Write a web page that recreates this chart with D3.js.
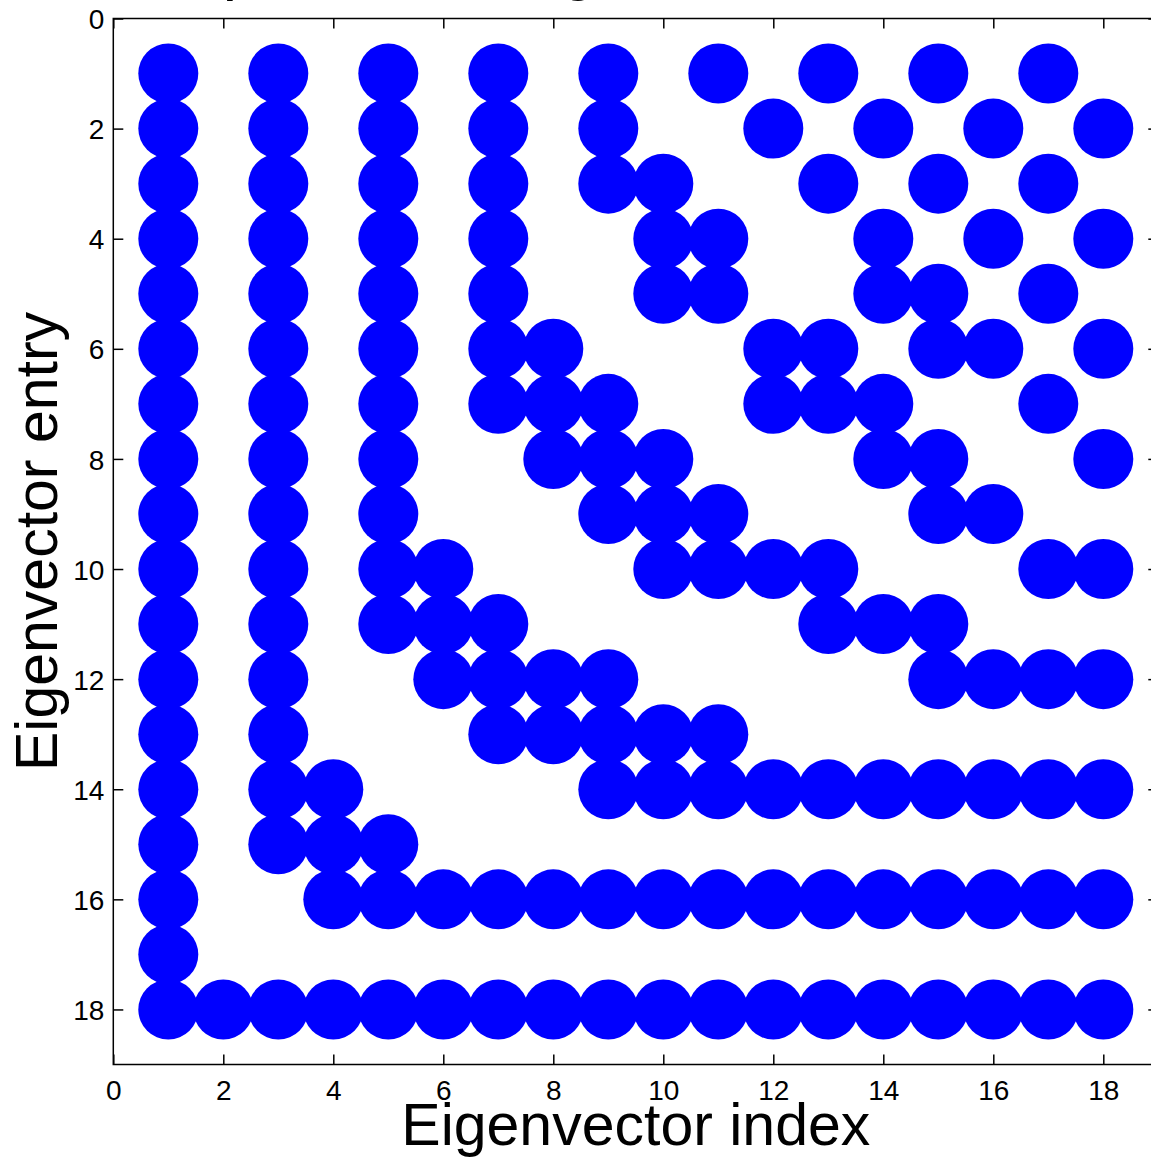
<!DOCTYPE html>
<html><head><meta charset="utf-8">
<script src="https://cdn.jsdelivr.net/npm/d3@7"></script>
<style>html,body{margin:0;padding:0;background:#fff;overflow:hidden}</style>
</head><body><svg id="c" width="1151" height="1160"></svg>
<script>
// Eigenvector index (columns) and the entries (rows) that are nonzero in each
const eigenvectorIndex = [1,2,3,4,5,6,7,8,9,10,11,12,13,14,15,16,17,18];
const nonzeroRows = [
  [1,2,3,4,5,6,7,8,9,10,11,12,13,14,15,16,17,18],
  [18],
  [1,2,3,4,5,6,7,8,9,10,11,12,13,14,15,18],
  [14,15,16,18],
  [1,2,3,4,5,6,7,8,9,10,11,15,16,18],
  [10,11,12,16,18],
  [1,2,3,4,5,6,7,11,12,13,16,18],
  [6,7,8,12,13,16,18],
  [1,2,3,7,8,9,12,13,14,16,18],
  [3,4,5,8,9,10,13,14,16,18],
  [1,4,5,9,10,13,14,16,18],
  [2,6,7,10,14,16,18],
  [1,3,6,7,10,11,14,16,18],
  [2,4,5,7,8,11,14,16,18],
  [1,3,5,6,8,9,11,12,14,16,18],
  [2,4,6,9,12,14,16,18],
  [1,3,5,7,10,12,14,16,18],
  [2,4,6,8,10,12,14,16,18]
];
const xTicks = [0,2,4,6,8,10,12,14,16,18];
const yTicks = [0,2,4,6,8,10,12,14,16,18];
const xDomain = [0,19];
const yDomain = [0,19];
const titleText = "Nonzero pattern of eigenvectors";
const xLabel = "Eigenvector index";
const yLabel = "Eigenvector entry";

const points = [];
eigenvectorIndex.forEach((c,i) => nonzeroRows[i].forEach(r => points.push({c, r})));

const L = 113.3, R = 1158.3, T = 18.5, B = 1064.5;
const x = d3.scaleLinear().domain(xDomain).range([L, R]);
const y = d3.scaleLinear().domain(yDomain).range([T, B]);

const svg = d3.select("#c");
const font = "'Liberation Sans', Arial, Helvetica, sans-serif";

// markers
svg.append("g").selectAll("circle").data(points).join("circle")
  .attr("cx", d => x(d.c)).attr("cy", d => y(d.r)).attr("r", 30)
  .attr("fill", "#0000ff");

// axes (ticks inward, box)
const tl = 10;
function styleAxis(g){
  g.select(".domain").remove();
  g.selectAll(".tick line").attr("stroke", "#000").attr("stroke-width", 1.5);
  g.selectAll(".tick text").attr("font-family", font).attr("font-size", 28).attr("fill", "#000");
}
svg.append("g").attr("transform", `translate(0,${B})`)
  .call(d3.axisBottom(x).tickValues(xTicks).tickFormat(d3.format("d")).tickSizeInner(-tl).tickSizeOuter(0).tickPadding(16))
  .call(styleAxis)
  .call(g => g.selectAll(".tick text").attr("dy", "0.71em"));
svg.append("g").attr("transform", `translate(0,${T})`)
  .call(d3.axisTop(x).tickValues(xTicks).tickSizeInner(-tl).tickSizeOuter(0).tickFormat(""))
  .call(styleAxis);
svg.append("g").attr("transform", `translate(${L},0)`)
  .call(d3.axisLeft(y).tickValues(yTicks).tickFormat(d3.format("d")).tickSizeInner(-tl).tickSizeOuter(0).tickPadding(9))
  .call(styleAxis)
  .call(g => g.selectAll(".tick text").attr("dy", "0.36em"));
svg.append("g").attr("transform", `translate(${R},0)`)
  .call(d3.axisRight(y).tickValues(yTicks).tickSizeInner(-tl).tickSizeOuter(0).tickFormat(""))
  .call(styleAxis);

svg.append("rect").attr("x", L).attr("y", T).attr("width", R - L).attr("height", B - T)
  .attr("fill", "none").attr("stroke", "#000").attr("stroke-width", 1.5);

// labels
svg.append("text").attr("x", (L + R) / 2).attr("y", 1145)
  .attr("text-anchor", "middle").attr("font-family", font).attr("font-size", 59).attr("fill", "#000")
  .text(xLabel);
svg.append("text").attr("transform", `translate(57,${(T + B) / 2}) rotate(-90)`)
  .attr("text-anchor", "middle").attr("font-family", font).attr("font-size", 59).attr("fill", "#000")
  .text(yLabel);

// title (mostly above the visible area, as in the reference)
svg.append("text").attr("x", -37).attr("y", -11.8)
  .attr("text-anchor", "start").attr("font-family", font).attr("font-size", 64).attr("fill", "#000")
  .text(titleText);
</script></body></html>
